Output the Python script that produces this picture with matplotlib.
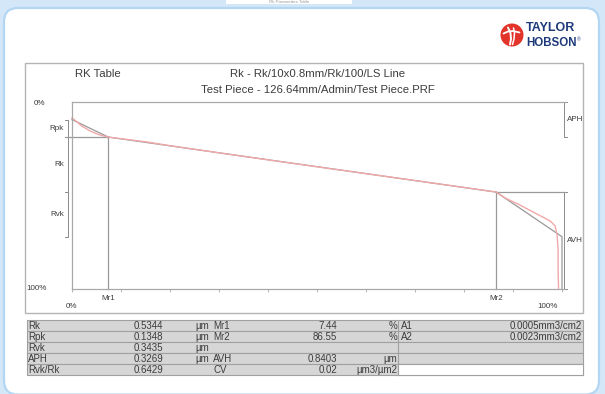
import matplotlib.pyplot as plt
import matplotlib.transforms as mtransforms
from matplotlib.patches import Rectangle, FancyBboxPatch, Circle
import numpy as np

plt.rcParams['font.family'] = ['Liberation Sans', 'DejaVu Sans']

# Rk parameters (ISO 13565-2)
rk, rpk, rvk = 0.5344, 0.1348, 0.3435
mr1, mr2 = 7.44, 86.55

# Abbott-Firestone (bearing area) curve: bearing ratio % vs depth um
bearing_pct = [0.0, 0.8, 2.0, 3.7, 5.7, 7.44, 15, 20, 30, 40, 50, 60, 70, 80, 86.55,
               88.4, 91.4, 94.5, 97.6, 98.6, 99.0, 99.2, 99.2, 99.3]
depth_um = [0.123, 0.146, 0.185, 0.223, 0.254, 0.270, 0.306, 0.336, 0.391, 0.445,
            0.498, 0.551, 0.604, 0.657, 0.692, 0.738, 0.792, 0.854, 0.915, 0.954,
            1.023, 1.138, 1.292, 1.438]

# results table
col1_names = ['Rk', 'Rpk', 'Rvk', 'APH', 'Rvk/Rk']
col1_values = [0.5344, 0.1348, 0.3435, 0.3269, 0.6429]
col1_units = ['µm', 'µm', 'µm', 'µm', '']
col2_names = ['Mr1', 'Mr2', '', 'AVH', 'CV']
col2_values = ['7.44', '86.55', '', '0.8403', '0.02']
col2_units = ['%', '%', '', 'µm', 'µm3/µm2']
col3_names = ['A1', 'A2', '', '', '']
col3_values = ['0.0005mm3/cm2', '0.0023mm3/cm2', '', '', '']

TXT = '#3c3c3c'

fig = plt.figure(figsize=(6.05, 3.94), dpi=100)
fig.patch.set_facecolor('#d3e7f8')
base = fig.add_axes([0, 0, 1, 1])
base.set_xlim(0, 605)
base.set_ylim(394, 0)
base.axis('off')

# page panel
base.add_patch(FancyBboxPatch((4, 8), 595, 386.5, boxstyle='round,pad=0,rounding_size=14',
                              fc='white', ec='#b3d6f3', lw=1.6))
base.add_patch(Rectangle((226, -1), 126, 4.5, fc='white', ec='none'))
base.text(289, 2.2, 'Rk Parameters Table', fontsize=3.2, color='#9a9a9a', ha='center', va='center')

# logo
base.add_patch(Circle((512, 35), 11.5, fc='#e2342b', ec='none'))
base.plot([508, 510.5, 511, 510], [27.5, 33, 39, 44.5], color='white', lw=1.4, solid_capstyle='round')
base.plot([513.5, 514.5, 514, 512.5], [28, 33, 39, 44.5], color='white', lw=1.1, solid_capstyle='round')
base.plot([503.5, 508, 513, 519.5], [33.5, 31.5, 31, 32.5], color='white', lw=1.3, solid_capstyle='round')
base.text(526, 28, 'TAYLOR', fontsize=9, fontweight='bold', color='#1e3a7b', va='center', ha='left')
base.text(526, 42.5, 'HOBSON', fontsize=8.3, fontweight='bold', color='#1e3a7b', va='center', ha='left')
base.text(576.5, 39.5, '®', fontsize=3.5, color='#1e3a7b', va='center', ha='left')

# report frame
base.add_patch(Rectangle((25, 63), 558, 250, fc='white', ec='#b4b4b4', lw=1))
base.text(98, 74, 'RK Table', fontsize=8.2, color=TXT, ha='center', va='center')
base.text(318, 74, 'Rk - Rk/10x0.8mm/Rk/100/LS Line', fontsize=8.2, color=TXT, ha='center', va='center')
base.text(318, 90, 'Test Piece - 126.64mm/Admin/Test Piece.PRF', fontsize=8.2, color=TXT,
          ha='center', va='center')

# chart area
x0, x1, ytop, ybot = 72, 565, 102, 289
px_per_pct = 4.9
ax = fig.add_axes([x0 / 605, (394 - ybot) / 394, (x1 - x0) / 605, (ybot - ytop) / 394])
ax.set_xlim(0, (x1 - x0) / px_per_pct)
ax.set_ylim(1.438, 0)
for side in ['left', 'top', 'bottom']:
    ax.spines[side].set_color('#a8a8a8')
    ax.spines[side].set_linewidth(0.9)
ax.spines['right'].set_visible(False)
ax.set_xticks(np.arange(0, 101, 10))
ax.set_xticklabels([])
ax.set_yticks([])
ax.tick_params(axis='x', length=2, width=0.6, color='#a8a8a8')
ax.patch.set_alpha(0)

bottom = 1.438
c1 = np.interp(mr1, bearing_pct, depth_um)
c2 = c1 + rk * (mr2 - mr1) / 100
line_kw = dict(color='#999999', lw=0.9, clip_on=False)

ax.plot([-1.5, mr1], [c1, c1], **line_kw)
ax.plot([0, mr1], [c1 - rpk, c1], **line_kw)
ax.plot([mr1, mr2], [c1, c2], **line_kw)
ax.plot([mr1, mr1], [c1, bottom], **line_kw)
ax.plot([mr2, mr2], [c2, bottom], **line_kw)
ax.plot([mr2, 100.6], [c2, c2], **line_kw)
ax.plot([mr2, 100, 100], [c2, c2 + rvk, bottom], **line_kw)
ax.plot(bearing_pct, depth_um, color='#f0a8a8', lw=1.0, clip_on=False)

# brackets: x in page pixels, y in depth
tr = mtransforms.blended_transform_factory(base.transData, ax.transData)
bk = dict(color='#8a8a8a', lw=0.7, transform=tr, clip_on=False)
base.plot([68, 68], [c1 - rpk, c2 + rvk], **bk)
for yv in [c1 - rpk, c1, c2, c2 + rvk]:
    base.plot([65, 68], [yv, yv], **bk)
base.plot([564, 564], [0, c1], **bk)
base.plot([564, 567], [0, 0], **bk)
base.plot([564, 567], [c1, c1], **bk)
base.plot([564, 564], [c2, bottom], **bk)
base.plot([564, 567], [c2, c2], **bk)
base.plot([564, 567], [bottom, bottom], **bk)

lab = dict(fontsize=5.8, color=TXT, va='center', transform=tr)
base.text(57, c1 - rpk / 2, 'Rpk', ha='center', **lab)
base.text(59, (c1 + c2) / 2, 'Rk', ha='center', **lab)
base.text(57, c2 + rvk / 2, 'Rvk', ha='center', **lab)
base.text(575, c1 / 2, 'APH', ha='center', **lab)
base.text(575, (c2 + bottom) / 2, 'AVH', ha='center', **lab)

small = dict(fontsize=5.8, color=TXT, va='center', ha='center')
base.text(40, 103, '0%', **small)
base.text(37, 289, '100%', **small)
base.text(71, 307, '0%', **small)
base.text(548, 307, '100%', **small)
mtr = mtransforms.blended_transform_factory(ax.transData, base.transData)
base.text(mr1, 299, 'Mr1', transform=mtr, **small)
base.text(mr2, 299, 'Mr2', transform=mtr, **small)

# results table
row_top, row_h = 320, 11
tf = dict(fontsize=7, color=TXT, va='center')
for i in range(5):
    y = row_top + i * row_h
    base.add_patch(Rectangle((27, y), 556, row_h, fc='#d6d6d6', ec='#a0a0a0', lw=0.8))
    if i == 4:
        base.add_patch(Rectangle((398, y), 185, row_h, fc='white', ec='#a0a0a0', lw=0.8))
    yc = y + row_h / 2 + 0.3
    base.text(28, yc, col1_names[i], ha='left', **tf)
    base.text(163, yc, f'{col1_values[i]:.4f}', ha='right', **tf)
    base.text(195, yc, col1_units[i], ha='left', **tf)
    base.text(213, yc, col2_names[i], ha='left', **tf)
    base.text(337, yc, col2_values[i], ha='right', **tf)
    base.text(397, yc, col2_units[i], ha='right', **tf)
    base.text(401, yc, col3_names[i], ha='left', **tf)
    base.text(582, yc, col3_values[i], ha='right', **tf)
base.plot([398, 398], [row_top, row_top + 5 * row_h], color='#a0a0a0', lw=0.8)

fig.savefig('out.png', dpi=100, facecolor=fig.get_facecolor())
